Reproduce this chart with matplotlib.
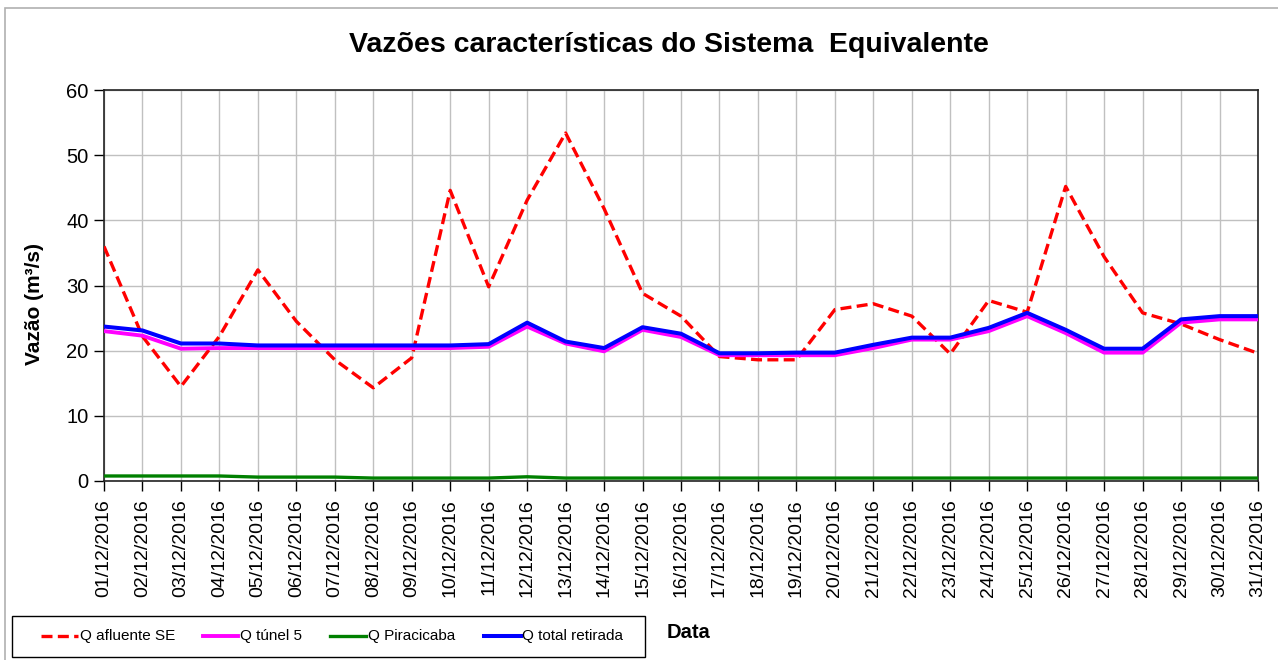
import matplotlib
matplotlib.use("Agg")
import matplotlib.pyplot as plt
from matplotlib.lines import Line2D
from matplotlib.patches import Rectangle

plt.rcParams['font.family'] = ['Liberation Sans', 'DejaVu Sans']

dates = [f"{d:02d}/12/2016" for d in range(1, 32)]

q_afluente = [36.0, 22.2, 14.5, 22.2, 32.4, 24.5, 18.6, 14.3, 18.9, 44.6,
              29.8, 43.1, 53.4, 41.8, 28.8, 25.3, 19.1, 18.6, 18.6, 26.3,
              27.2, 25.3, 19.5, 27.7, 25.9, 45.2, 34.4, 25.8, 24.1, 21.7, 19.6]
q_tunel5 = [23.0, 22.3, 20.3, 20.4, 20.4, 20.4, 20.4, 20.4, 20.4, 20.4,
            20.6, 23.7, 21.1, 19.9, 23.2, 22.1, 19.3, 19.3, 19.3, 19.3,
            20.4, 21.7, 21.7, 23.0, 25.3, 22.7, 19.7, 19.7, 24.3, 24.8, 24.8]
q_piracicaba = [0.77, 0.77, 0.77, 0.77, 0.6, 0.6, 0.6, 0.45, 0.45, 0.45,
                0.45, 0.65, 0.45, 0.45, 0.45, 0.45, 0.45, 0.45, 0.45, 0.45,
                0.45, 0.45, 0.45, 0.45, 0.45, 0.45, 0.45, 0.45, 0.45, 0.45, 0.45]
q_total = [23.7, 23.1, 21.1, 21.1, 20.8, 20.8, 20.8, 20.8, 20.8, 20.8,
           21.0, 24.3, 21.4, 20.4, 23.6, 22.6, 19.6, 19.6, 19.7, 19.7,
           20.9, 22.0, 22.0, 23.5, 25.8, 23.2, 20.3, 20.3, 24.8, 25.3, 25.3]

labels = ["Q afluente SE", "Q túnel 5", "Q Piracicaba", "Q total retirada"]
colors = ['#ff0000', '#ff00ff', '#008000', '#0000ff']
styles = [(0, (3.3, 1.6)), '-', '-', '-']
widths = [2.4, 2.8, 2.4, 2.9]

W, H = 1278, 660
fig = plt.figure(figsize=(W / 100, H / 100), dpi=100)

def fx(px):
    return px / W

def fy(py):
    return 1 - py / H

ax = fig.add_axes([fx(104), fy(481), fx(1258) - fx(104), fy(90) - fy(481)])
x = list(range(len(dates)))

series = [q_afluente, q_tunel5, q_piracicaba, q_total]
for i, ser in enumerate(series):
    ax.plot(x, ser, color=colors[i], lw=widths[i], linestyle=styles[i],
            label=labels[i], zorder=3 + (i == 3))

ax.set_xlim(0, len(dates) - 1)
ax.set_ylim(0, 60)
ax.set_yticks(range(0, 61, 10))
ax.set_xticks(x)
ax.set_xticklabels(dates, rotation=90, fontsize=14)
ax.tick_params(axis='y', labelsize=14.5, direction='out', length=7, width=1, pad=4)
ax.tick_params(axis='x', direction='out', length=7, width=1, pad=6)
ax.grid(True, color='#c0c0c0', lw=1)
ax.set_axisbelow(True)
for s in ax.spines.values():
    s.set_color('#222222')
    s.set_linewidth(1.2)

fig.text(fx(35), fy(304), "Vazão (m³/s)", rotation=90, ha='center', va='center',
         fontsize=15, fontweight='bold')

fig.text(fx(669), fy(45), "Vazões características do Sistema  Equivalente",
         ha='center', va='center', fontsize=20.5, fontweight='bold')

fig.text(fx(688), fy(633), "Data", ha='center', va='center', fontsize=14.5, fontweight='bold')

# legend (manual layout)
fig.patches.append(Rectangle((fx(12), fy(657)), fx(645) - fx(12), fy(616) - fy(657),
                             transform=fig.transFigure, fill=False, edgecolor='black', lw=1.0))
sample_x = [(41, 78), (203, 238), (330, 366), (484, 521)]
text_x = [80, 240, 368, 522]
ly = 636
for i in range(4):
    fig.add_artist(Line2D([fx(sample_x[i][0]), fx(sample_x[i][1])], [fy(ly), fy(ly)],
                          transform=fig.transFigure, color=colors[i], lw=widths[i],
                          linestyle=styles[i]))
    fig.text(fx(text_x[i]), fy(ly), labels[i], ha='left', va='center', fontsize=11)

# outer chart border
fig.patches.append(Rectangle((fx(5), fy(700)), 1.2, fy(8) - fy(700), transform=fig.transFigure,
                             fill=False, edgecolor='#b0b0b0', lw=1.2))

fig.savefig("out.png", dpi=100)
